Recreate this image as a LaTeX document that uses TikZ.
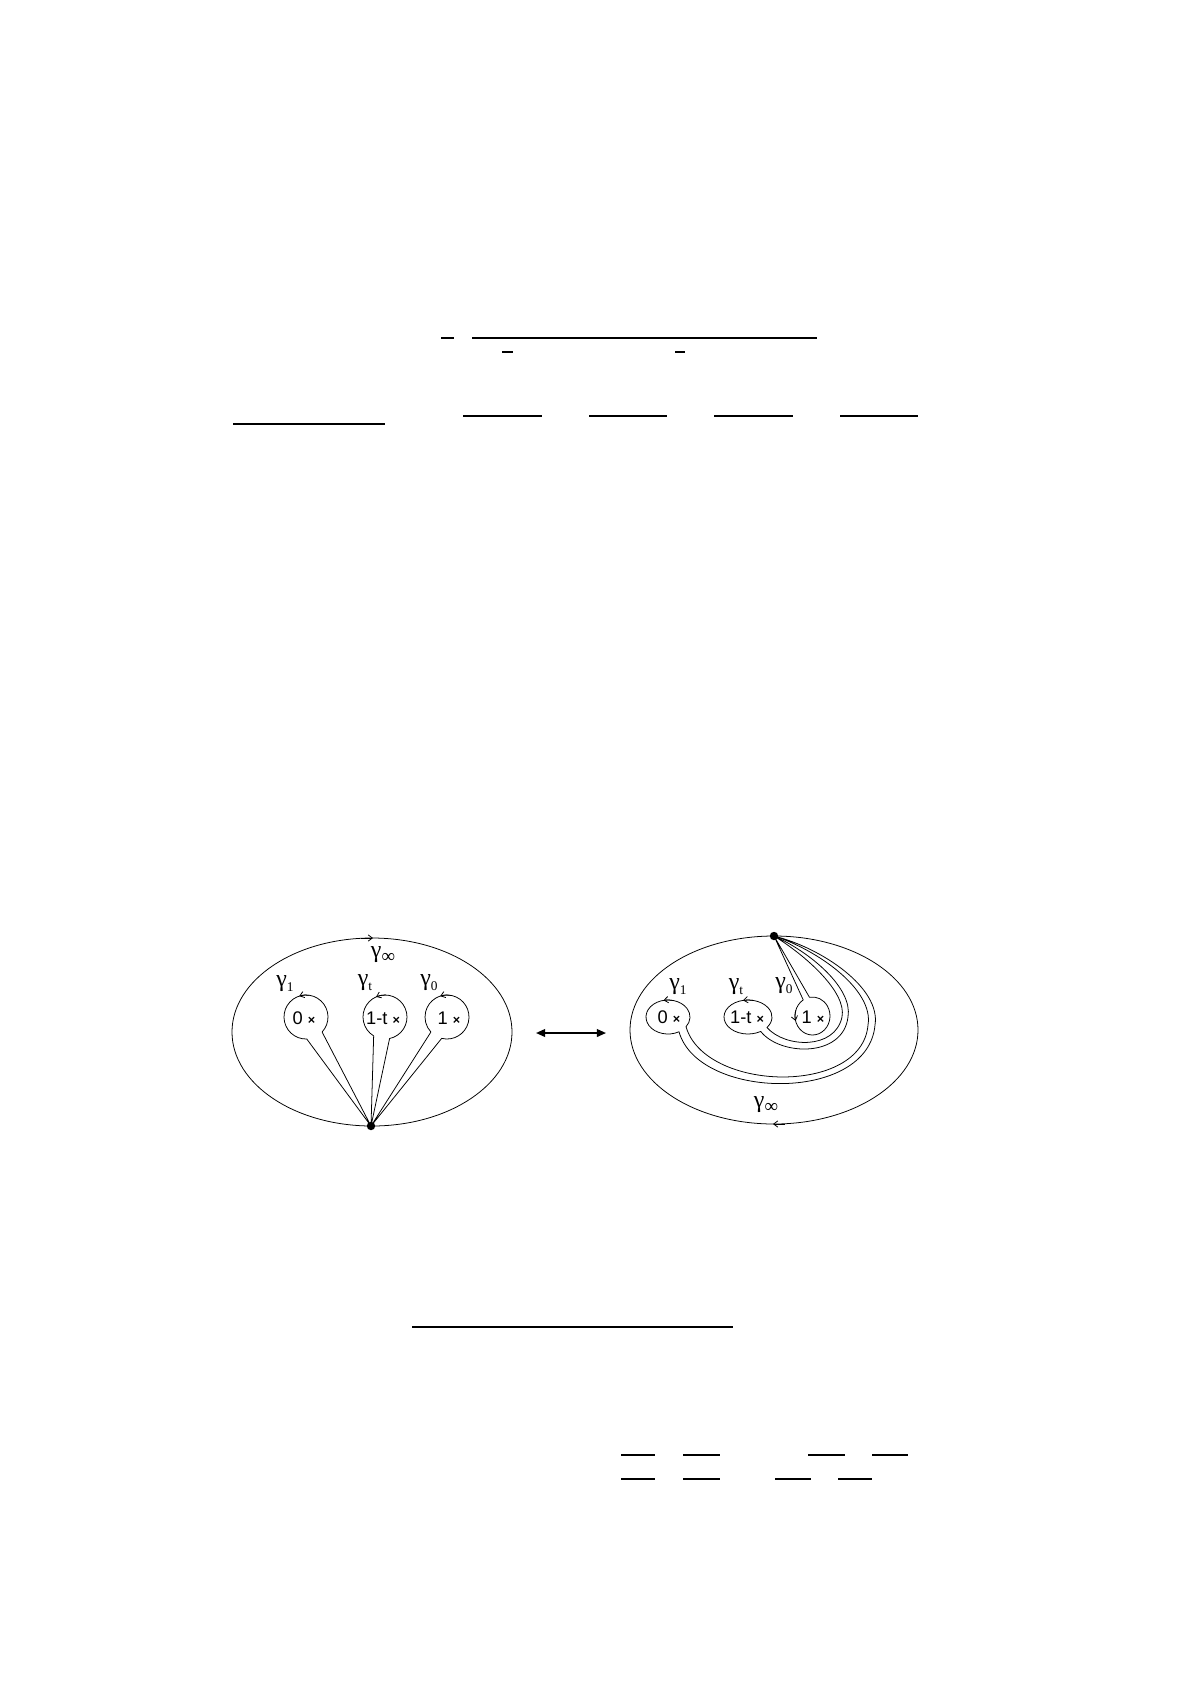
\documentclass[tikz,border=0pt]{standalone}
\usepackage{fontspec}
\setmainfont{Liberation Serif}
\newfontfamily\labsans{Liberation Sans}
\usetikzlibrary{arrows.meta,calc}
\newcommand\gsub[2][19]{γ\raisebox{-6pt}{\fontsize{#1}{#1}\selectfont #2}}
\newcommand\xmk{{\fontsize{18}{18}\selectfont\bfseries ×}}
\begin{document}
\begin{tikzpicture}[x=0.05cm,y=-0.05cm,
  curve/.style={line width=1.1pt,line join=round},
  fracline/.style={line width=3.4pt},
  tipmark/.style={line width=1.1pt,-{Straight Barb[length=6pt,width=9pt]}},
  gam/.style={inner sep=0pt,font=\fontsize{34}{34}\selectfont},
  ptlab/.style={inner sep=0pt,font=\labsans\fontsize{26}{26}\selectfont},
  basept/.style={circle,fill,inner sep=0pt,minimum size=0.42cm},
]
\fill[white] (0,0) rectangle (1191,1685);
\useasboundingbox (0,0) rectangle (1191,1685);

% ---- fraction-bar remnants (top) ----
\draw[fracline] (441,338) -- (454,338);
\draw[fracline] (472,338) -- (817,338);
\draw[fracline] (502,352) -- (513,352);
\draw[fracline] (675,352) -- (685,352);
\draw[fracline] (233,424) -- (385,424);
\draw[fracline] (463,416) -- (542,416);
\draw[fracline] (589,416) -- (667,416);
\draw[fracline] (714,416) -- (793,416);
\draw[fracline] (840,416) -- (918,416);
% ---- fraction-bar remnants (bottom) ----
\draw[fracline] (412,1327) -- (733,1327);
\draw[fracline] (621,1455) -- (655,1455);
\draw[fracline] (683,1455) -- (720,1455);
\draw[fracline] (808,1455) -- (845,1455);
\draw[fracline] (872,1455) -- (908,1455);
\draw[fracline] (621,1479) -- (655,1479);
\draw[fracline] (683,1479) -- (720,1479);
\draw[fracline] (775,1479) -- (811,1479);
\draw[fracline] (838,1479) -- (872,1479);

% ================= LEFT DIAGRAM =================
\coordinate (eL) at (372,1032);
\draw[curve] (eL) ellipse [x radius=140, y radius=94];
\coordinate (eLa) at (361,938);
\coordinate (eLb) at (373,938);
\draw[tipmark] (eLa) -- (eLb);
\node[gam] (ginfL) at (383,955) {\gsub[27]{∞}};

\node[basept] (pL) at (371,1126) {};
\coordinate (cL0) at (306,1017);
\coordinate (cLt) at (385,1017);
\coordinate (cL1) at (447,1017);

\draw[curve] (pL.center) -- ($(cL0)+(43:22)$) arc[start angle=43,end angle=-272,radius=22] -- (pL.center);
\draw[curve] (pL.center) -- ($(cLt)+(78:22)$) arc[start angle=78,end angle=-239,radius=22] -- (pL.center);
\draw[curve] (pL.center) -- ($(cL1)+(104:22)$) arc[start angle=104,end angle=-223,radius=22] -- (pL.center);

\draw[tipmark] ($(cL0)+(-82:22)$) arc[start angle=-82,end angle=-108,radius=22];
\draw[tipmark] ($(cLt)+(-88:22)$) arc[start angle=-88,end angle=-114,radius=22];
\draw[tipmark] ($(cL1)+(-82:22)$) arc[start angle=-82,end angle=-108,radius=22];

\node[ptlab] (lL0) at (304,1018) {0 \xmk};
\node[ptlab] (lLt) at (383,1018) {1-t \xmk};
\node[ptlab] (lL1) at (449,1018) {1 \xmk};

\node[gam] (gL1) at (285,984) {\gsub{1}};
\node[gam] (gLt) at (365,983) {\gsub{t}};
\node[gam] (gL0) at (429,983) {\gsub{0}};

% ================= DOUBLE ARROW =================
\coordinate (arL) at (536,1033);
\coordinate (arR) at (606,1033);
\draw[line width=2.4pt,{Triangle[length=13pt,width=11pt]}-{Triangle[length=13pt,width=11pt]}] (arL) -- (arR);

% ================= RIGHT DIAGRAM =================
\coordinate (eR) at (774,1030);
\draw[curve] (eR) ellipse [x radius=144, y radius=94];
\coordinate (eRa) at (785,1124);
\coordinate (eRb) at (773,1124);
\draw[tipmark] (eRa) -- (eRb);
\node[gam] (ginfR) at (766,1105) {\gsub[27]{∞}};

\node[basept] (pR) at (774,936) {};
\coordinate (cR0) at (668,1017);
\coordinate (cRt) at (748,1017);
\coordinate (cR1) at (812.5,1016);

% loop around 0, channel sweeping round the right
\draw[curve] (pR.center) .. controls (822,948) and (881,988) .. (875,1025)
  .. controls (868,1104) and (698,1100) .. ($(cR0)+(60:22 and 17)$)
  arc[start angle=60,end angle=395,x radius=22,y radius=17]
  .. controls (705,1092) and (862,1096) .. (868,1025)
  .. controls (874,990) and (818,950) .. (pR.center);
% loop around 1-t
\draw[curve] (pR.center) .. controls (810,952) and (853,988) .. (848,1017)
  .. controls (843,1058) and (780,1056) .. ($(cRt)+(58:24 and 17)$)
  arc[start angle=58,end angle=398,x radius=24,y radius=17]
  .. controls (785,1048) and (835,1050) .. (842,1017)
  .. controls (847,992) and (805,955) .. (pR.center);
% loop around 1
\draw[curve] (pR.center) -- ($(cR1)+(238:17.5 and 19)$)
  arc[start angle=238,end angle=-100,x radius=17.5,y radius=19] -- (pR.center);

\draw[tipmark] ($(cR0)+(-76:22 and 17)$) arc[start angle=-76,end angle=-102,x radius=22,y radius=17];
\draw[tipmark] ($(cRt)+(-76:24 and 17)$) arc[start angle=-76,end angle=-102,x radius=24,y radius=17];
\draw[tipmark] ($(cR1)+(198:17.5 and 19)$) arc[start angle=198,end angle=165,x radius=17.5,y radius=19];

\node[ptlab] (lR0) at (669,1017) {0 \xmk};
\node[ptlab] (lRt) at (747,1017) {1-t \xmk};
\node[ptlab] (lR1) at (813,1017) {1 \xmk};

\node[gam] (gR1) at (678,987) {\gsub{1}};
\node[gam] (gRt) at (736,987) {\gsub{t}};
\node[gam] (gR0) at (784,986) {\gsub{0}};
\end{tikzpicture}
\end{document}
